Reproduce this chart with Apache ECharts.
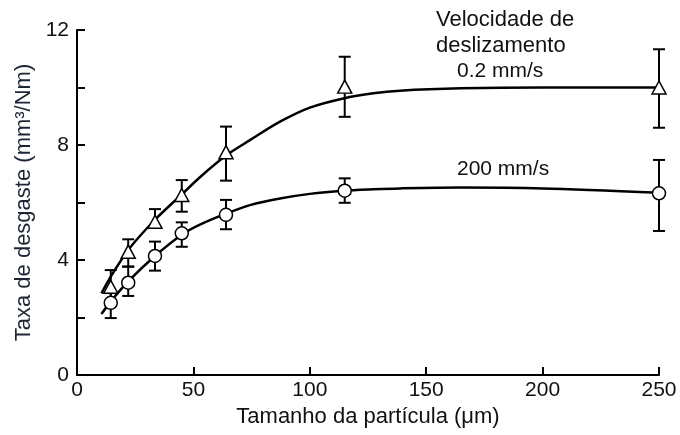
<!DOCTYPE html>
<html>
<head>
<meta charset="utf-8">
<script src="https://cdn.jsdelivr.net/npm/echarts@6/dist/echarts.min.js"></script>
<style>
  html, body { margin: 0; padding: 0; background: #fff; }
  #main { width: 680px; height: 435px; }
</style>
</head>
<body>
<div id="main"></div>
<script>
// tamanho da partícula (μm) dos pontos medidos
var sizes = [14.5, 22, 33.5, 45, 64, 115, 250];

// 0.2 mm/s (triângulos)
var slowMean = [3.07, 4.29, 5.33, 6.26, 7.75, 10.03, 10.0];
var slowLow  = [2.6, 3.77, 5.18, 5.68, 6.76, 8.98, 8.6];
var slowHigh = [3.65, 4.72, 5.77, 6.78, 8.64, 11.07, 11.33];

// 200 mm/s (círculos)
var fastMean = [2.51, 3.21, 4.14, 4.93, 5.57, 6.41, 6.32];
var fastLow  = [1.98, 2.75, 3.63, 4.46, 5.07, 5.99, 5.01];
var fastHigh = [2.85, 3.77, 4.64, 5.31, 6.09, 6.84, 7.48];

// curvas ajustadas
var curveX    = [10.5, 14.5, 22, 33.5, 45, 52.8, 64.3, 74.3, 87.2, 100, 114.4, 127.3, 138.7, 165, 200, 250];
var slowCurve = [2.84, 3.42, 4.35, 5.40, 6.28, 6.88, 7.65, 8.17, 8.81, 9.30, 9.62, 9.80, 9.89, 9.97, 10.0, 10.0];
var fastCurve = [2.12, 2.56, 3.26, 4.14, 4.88, 5.23, 5.62, 5.91, 6.14, 6.30, 6.41, 6.46, 6.49, 6.52, 6.49, 6.34];

var FONT = '"Liberation Sans", Arial, sans-serif';

function pairs(xs, ys) {
  return xs.map(function (x, i) { return [x, ys[i]]; });
}

function errData(low, high) {
  return sizes.map(function (x, i) { return [x, low[i], high[i]]; });
}

function renderError(params, api) {
  var top = api.coord([api.value(0), api.value(2)]);
  var bot = api.coord([api.value(0), api.value(1)]);
  var cap = 6;
  var st = { stroke: '#000', lineWidth: 2 };
  return {
    type: 'group',
    children: [
      { type: 'line', shape: { x1: top[0], y1: top[1], x2: bot[0], y2: bot[1] }, style: st },
      { type: 'line', shape: { x1: top[0] - cap, y1: top[1], x2: top[0] + cap, y2: top[1] }, style: st },
      { type: 'line', shape: { x1: bot[0] - cap, y1: bot[1], x2: bot[0] + cap, y2: bot[1] }, style: st }
    ]
  };
}

var chart = echarts.init(document.getElementById('main'));

var option = {
  animation: false,
  backgroundColor: '#fff',
  grid: { left: 77, right: 21, top: 30, bottom: 60, containLabel: false },
  xAxis: {
    type: 'value',
    min: 0,
    max: 250,
    interval: 50,
    name: 'Tamanho da partícula (μm)',
    nameLocation: 'middle',
    nameGap: 27,
    nameTextStyle: { fontFamily: FONT, fontSize: 22, color: '#111' },
    axisLine: { lineStyle: { color: '#000', width: 2 } },
    axisTick: { inside: true, length: 8, lineStyle: { color: '#000', width: 2 } },
    axisLabel: { fontFamily: FONT, fontSize: 21, color: '#111', margin: 5 },
    splitLine: { show: false }
  },
  yAxis: {
    type: 'value',
    min: 0,
    max: 12,
    interval: 2,
    name: 'Taxa de desgaste (mm³/Nm)',
    nameLocation: 'middle',
    nameGap: 41,
    nameTextStyle: { fontFamily: FONT, fontSize: 22, color: '#1c2535' },
    axisLine: { show: true, lineStyle: { color: '#000', width: 2 } },
    axisTick: { inside: true, length: 8, lineStyle: { color: '#000', width: 2 } },
    axisLabel: {
      fontFamily: FONT, fontSize: 21, color: '#111', margin: 8,
      formatter: function (v) { return v % 4 === 0 ? String(v) : ''; }
    },
    splitLine: { show: false }
  },
  graphic: [
    { type: 'text', left: 436, top: 9, style: { text: 'Velocidade de', font: '22px ' + FONT, fill: '#111' } },
    { type: 'text', left: 436, top: 35, style: { text: 'deslizamento', font: '22px ' + FONT, fill: '#111' } },
    { type: 'text', left: 457, top: 61, style: { text: '0.2 mm/s', font: '21px ' + FONT, fill: '#111' } },
    { type: 'text', left: 457, top: 159, style: { text: '200 mm/s', font: '21px ' + FONT, fill: '#111' } }
  ],
  series: [
    {
      type: 'custom', name: '0.2 mm/s erro', renderItem: renderError,
      data: errData(slowLow, slowHigh), z: 2, encode: { x: 0, y: [1, 2] }
    },
    {
      type: 'custom', name: '200 mm/s erro', renderItem: renderError,
      data: errData(fastLow, fastHigh), z: 2, encode: { x: 0, y: [1, 2] }
    },
    {
      type: 'line', name: '0.2 mm/s ajuste', data: pairs(curveX, slowCurve),
      smooth: 0.3, showSymbol: false, z: 3,
      lineStyle: { color: '#000', width: 2.5 }
    },
    {
      type: 'line', name: '200 mm/s ajuste', data: pairs(curveX, fastCurve),
      smooth: 0.3, showSymbol: false, z: 3,
      lineStyle: { color: '#000', width: 2.5 }
    },
    {
      type: 'scatter', name: '0.2 mm/s', data: pairs(sizes, slowMean),
      symbol: 'triangle', symbolSize: [14, 13], z: 5,
      itemStyle: { color: '#fff', borderColor: '#000', borderWidth: 1.5, opacity: 1 }
    },
    {
      type: 'scatter', name: '200 mm/s', data: pairs(sizes, fastMean),
      symbol: 'circle', symbolSize: 13, z: 5,
      itemStyle: { color: '#fff', borderColor: '#000', borderWidth: 1.5, opacity: 1 }
    }
  ]
};

chart.setOption(option);
</script>
</body>
</html>
